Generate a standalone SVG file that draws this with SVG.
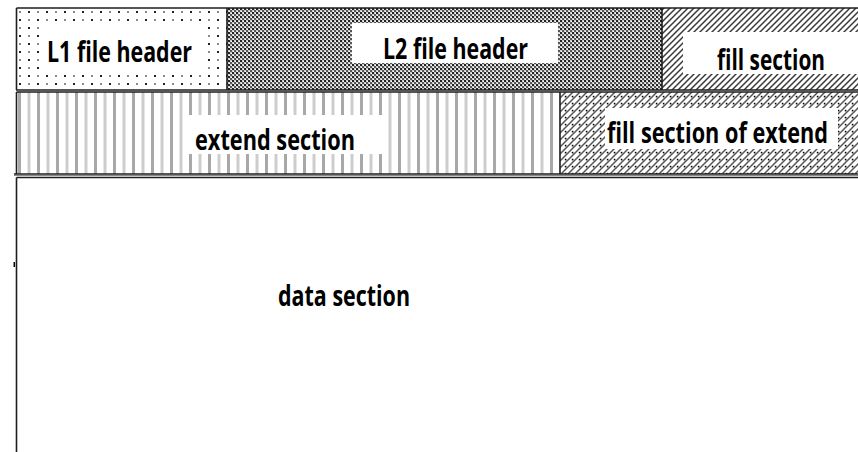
<svg xmlns="http://www.w3.org/2000/svg" width="858" height="452" viewBox="0 0 858 452">
  <defs>
    <!-- sparse dot grid -->
    <pattern id="dots" width="18" height="16" patternUnits="userSpaceOnUse" x="16" y="8">
      <rect width="18" height="16" fill="#fff"/>
      <rect x="3" y="3" width="2" height="2" fill="#888"/>
      <rect x="12" y="3" width="2" height="2" fill="#222"/>
      <rect x="3" y="11" width="2" height="2" fill="#222"/>
      <rect x="12" y="11" width="2" height="2" fill="#888"/>
    </pattern>
    <!-- dense checker -->
    <pattern id="checker" width="4" height="4" patternUnits="userSpaceOnUse">
      <rect width="4" height="4" fill="#d0d0d0"/>
      <rect x="0" y="0" width="2" height="2" fill="#222"/>
      <rect x="2" y="2" width="2" height="2" fill="#555"/>
      <rect x="3" y="1" width="1" height="1" fill="#fff"/>
      <rect x="1" y="3" width="1" height="1" fill="#fff"/>
    </pattern>
    <!-- diagonal hatch -->
    <pattern id="hatch" width="6" height="6" patternUnits="userSpaceOnUse">
      <rect width="6" height="6" fill="#fff"/>
      <path d="M-1,7 L7,-1 M-1,1 L1,-1 M5,7 L7,5" stroke="#3a3a3a" stroke-width="1.5"/>
    </pattern>
    <!-- diagonal hatch with dots -->
    <pattern id="hatchdots" width="7" height="7" patternUnits="userSpaceOnUse">
      <rect width="7" height="7" fill="#fff"/>
      <path d="M-1,8 L8,-1 M-1,1 L1,-1 M6,8 L8,6" stroke="#555" stroke-width="1.5"/>
      <rect x="4.8" y="4.8" width="1.6" height="1.6" fill="#000"/>
    </pattern>
    <!-- vertical stripes -->
    <pattern id="stripes" width="19" height="10" patternUnits="userSpaceOnUse" x="16">
      <rect width="19" height="10" fill="#fff"/>
      <rect x="2" y="0" width="3" height="10" fill="#a8a8a8"/>
      <rect x="11.5" y="0" width="3" height="10" fill="#cdcdcd"/>
    </pattern>
  </defs>
  <style>
    .lbl { font-family: "Open Sans", "Liberation Sans", sans-serif; font-weight: bold; font-size: 22px; fill: #000; }
    .pad { fill: #fff; }
    .edge { stroke: #1e1e1e; stroke-width: 1.6; fill: none; }
  </style>

  <rect width="858" height="452" fill="#fff"/>

  <g id="l1-header">
    <rect x="16.5" y="8" width="210.5" height="82" fill="url(#dots)"/>
    <rect class="pad" x="44" y="26" width="164" height="46"/>
    <text class="lbl" transform="translate(47,62) scale(1,1.32)" textLength="145" lengthAdjust="spacingAndGlyphs">L1 file header</text>
  </g>

  <g id="l2-header">
    <rect x="227" y="8" width="435" height="82" fill="url(#checker)"/>
    <rect class="pad" x="352" y="23" width="206" height="40"/>
    <text class="lbl" transform="translate(383,59) scale(1,1.32)" textLength="145" lengthAdjust="spacingAndGlyphs">L2 file header</text>
  </g>

  <g id="fill-section">
    <rect x="662" y="8" width="196" height="82" fill="url(#hatch)"/>
    <rect class="pad" x="683" y="32" width="175" height="42"/>
    <text class="lbl" transform="translate(717,70) scale(1,1.32)" textLength="108" lengthAdjust="spacingAndGlyphs">fill section</text>
  </g>

  <g id="extend-section">
    <rect x="16.5" y="92" width="543.5" height="82" fill="url(#stripes)"/>
    <rect class="pad" x="187" y="115" width="198" height="39"/>
    <text class="lbl" transform="translate(195,150) scale(1,1.32)" textLength="160" lengthAdjust="spacingAndGlyphs">extend section</text>
  </g>

  <g id="fill-of-extend">
    <rect x="560" y="92" width="298" height="82" fill="url(#hatchdots)"/>
    <rect class="pad" x="605" y="108" width="233" height="41"/>
    <text class="lbl" transform="translate(607,143) scale(1,1.32)" textLength="221" lengthAdjust="spacingAndGlyphs">fill section of extend</text>
  </g>

  <g id="data-section">
    <text class="lbl" transform="translate(278,306) scale(1,1.32)" textLength="132" lengthAdjust="spacingAndGlyphs">data section</text>
  </g>

  <!-- outlines and dividers -->
  <g id="connectors">
    <path class="edge" d="M16.5,8 H858 M16.5,8 V90 M227,8 V90 M662,8 V90 M16,90 H858"/>
    <path class="edge" d="M16.5,92 H858 M16.5,92 V174 M560,92 V174 M14,174 H858"/>
    <path d="M14,175.5 H858" stroke="#888" stroke-width="1"/>
    <path class="edge" d="M16.5,177.5 H858 M16.5,177.5 V452"/>
    <path d="M14.3,262 V267" stroke="#000" stroke-width="1.5"/>
  </g>
</svg>
